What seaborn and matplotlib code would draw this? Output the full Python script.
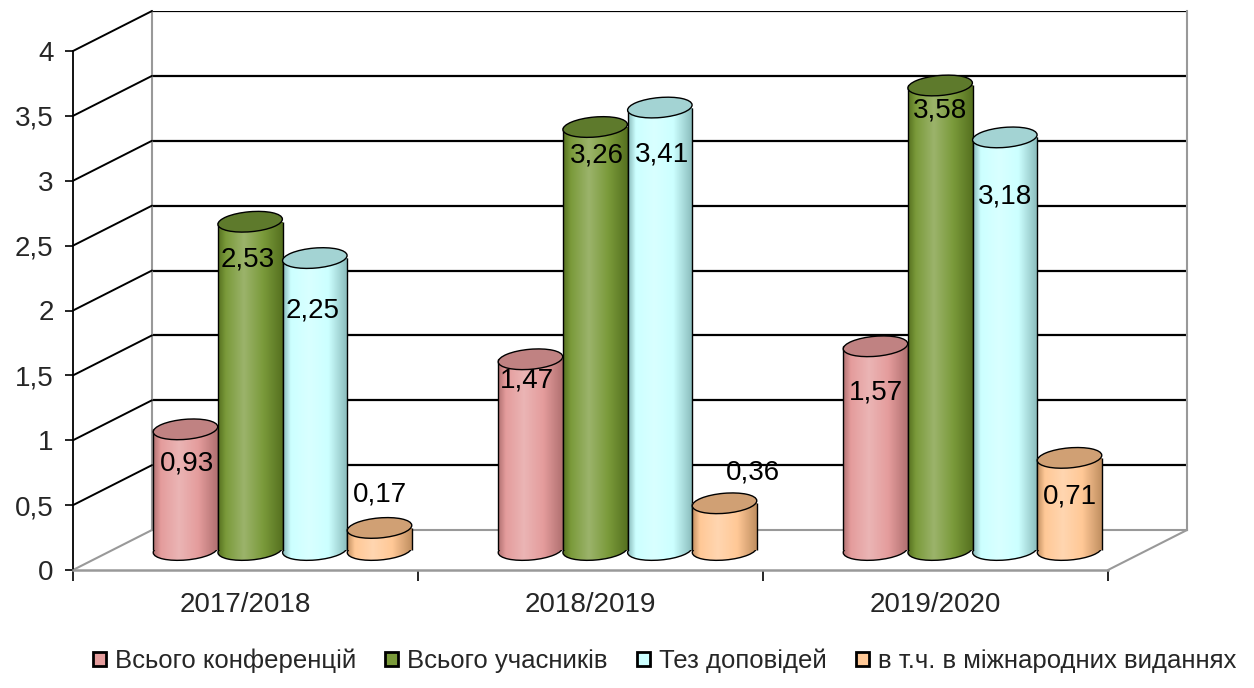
import numpy as np
import pandas as pd
import seaborn as sns
import matplotlib
matplotlib.use("Agg")
import matplotlib.pyplot as plt
from matplotlib.patches import Ellipse, Patch, ConnectionPatch
from matplotlib.colors import LinearSegmentedColormap, to_rgb
from matplotlib.transforms import ScaledTranslation
from matplotlib.ticker import FixedLocator, NullFormatter

# ---------------- data ----------------
years = ["2017/2018", "2018/2019", "2019/2020"]
series = ["Всього конференцій", "Всього учасників", "Тез доповідей",
          "в т.ч. в міжнародних виданнях"]
conferences = [0.93, 1.47, 1.57]
participants = [2.53, 3.26, 3.58]
theses = [2.25, 3.41, 3.18]
international = [0.17, 0.36, 0.71]
y_ticks = [0, 0.5, 1, 1.5, 2, 2.5, 3, 3.5, 4]
y_tick_labels = ["0", "0,5", "1", "1,5", "2", "2,5", "3", "3,5", "4"]

# ---------------- style ----------------
body_colors = ["#E49C9C", "#7A9A3A", "#CCFFFF", "#FFC896"]
shade_colors = ["#B07070", "#55701F", "#88BABA", "#C08E60"]
top_colors = ["#C08282", "#5E7A2C", "#A3D3D3", "#D0A074"]
# label offsets (pixels) relative to bar top, per series then per year
label_dy_px = [[-34, -21, -46], [-38, -28, -25], [-52, -47, -59], [33, 31, -39]]
label_dx_px = [[2, -4, 0], [-2, 2, 0], [-2, 2, 0], [0, 28, 0]]

W, H = 1254, 688
sns.set_style("white")
plt.rcParams["font.family"] = ["Liberation Sans", "DejaVu Sans"]

df = pd.DataFrame({
    "year": years * 4,
    "series": np.repeat(series, 3),
    "value": conferences + participants + theses + international,
})

fig = plt.figure(figsize=(W / 100, H / 100), dpi=100)
fig.patch.set_facecolor("white")


def rect(x0, y_top, x1, y_bot, dx=0, dy=0):
    return [(x0 + dx) / W, 1 - (y_bot + dy) / H, (x1 - x0) / W, (y_bot - y_top) / H]


FX0, FY0, FX1, FY1 = 73, 51, 1108, 570
PX_PER_UNIT = (FY1 - FY0) / 4.0
EXT = 24  # extra pixels below the floor for the mid plane (room for bottom caps)

ax_back = fig.add_axes(rect(FX0, FY0, FX1, FY1, 79, -40), zorder=0)
ax_front = fig.add_axes(rect(FX0, FY0, FX1, FY1), zorder=1)
ax_mid = fig.add_axes(rect(FX0, FY0 - 20, FX1, FY1 - 20 + EXT, 37, 0), zorder=2)
mid_ymin = -EXT / PX_PER_UNIT

for a in (ax_back, ax_front):
    a.set_xlim(-0.5, 2.5)
    a.set_ylim(0, 4)
    a.patch.set_visible(False)
ax_mid.patch.set_visible(False)

# ---- back wall ----
for y in y_ticks[1:]:
    ax_back.axhline(y, color="black", lw=1.6, zorder=1)
for s in ["left", "right", "bottom"]:
    ax_back.spines[s].set_color("#999999")
    ax_back.spines[s].set_linewidth(1.5)
ax_back.spines["top"].set_visible(False)
ax_back.set_xticks([])
ax_back.set_yticks([])

# ---- side wall diagonals ----
for y in y_ticks:
    con = ConnectionPatch(xyA=(-0.5, y), coordsA=ax_front.transData,
                          xyB=(-0.5, y), coordsB=ax_back.transData,
                          color="#999999" if y == 0 else "black",
                          lw=1.5 if y == 0 else 1.4, zorder=0.5)
    fig.add_artist(con)
con = ConnectionPatch(xyA=(2.5, 0), coordsA=ax_front.transData,
                      xyB=(2.5, 0), coordsB=ax_back.transData,
                      color="#999999", lw=1.5, zorder=0.5)
fig.add_artist(con)

# ---- front axes ----
ax_front.spines["top"].set_visible(False)
ax_front.spines["right"].set_visible(False)
ax_front.spines["left"].set_color("black")
ax_front.spines["left"].set_linewidth(1.3)
ax_front.spines["bottom"].set_color("#999999")
ax_front.spines["bottom"].set_linewidth(1.8)
ax_front.set_yticks(y_ticks)
ax_front.set_yticklabels(y_tick_labels)
ax_front.tick_params(axis="y", length=6, width=1.2, color="black",
                     labelsize=20, pad=8, left=True)
ax_front.xaxis.set_major_locator(FixedLocator([-0.5, 0.5, 1.5, 2.5]))
ax_front.xaxis.set_major_formatter(NullFormatter())
ax_front.xaxis.set_minor_locator(FixedLocator([0, 1, 2]))
ax_front.set_xticklabels(years, minor=True)
ax_front.tick_params(axis="x", which="major", length=8, width=1.2,
                     color="black", bottom=True)
ax_front.tick_params(axis="x", which="minor", length=0, labelsize=20, pad=16)

# ---- bars (mid-depth plane) ----
sns.barplot(data=df, x="year", y="value", hue="series", order=years,
            hue_order=series, palette=body_colors, width=0.75,
            saturation=1, edgecolor="none", legend=False, ax=ax_mid)
ax_mid.set_xlim(-0.5, 2.5)
ax_mid.set_ylim(mid_ymin, 4)
ax_mid.axis("off")

pos = ax_mid.get_position()
in_per_x = pos.width * fig.get_figwidth() / 3.0
in_per_y = PX_PER_UNIT / 100.0
ell_h_in = 0.20
eh = 0.75 * ell_h_in / in_per_y
angle = 5
grad = np.linspace(0, 1, 256).reshape(1, -1)

for i, cont in enumerate(ax_mid.containers):
    base = 2 + i
    body = np.array(to_rgb(body_colors[i]))
    light = body + (1 - body) * 0.25
    cmap = LinearSegmentedColormap.from_list(
        f"c{i}", [(0, shade_colors[i]), (0.12, body_colors[i]), (0.4, light),
                  (0.7, body_colors[i]), (1, shade_colors[i])])
    for j, bar in enumerate(cont):
        x, w, h = bar.get_x(), bar.get_width(), bar.get_height()
        cx = x + w / 2
        w_in = w * in_per_x
        bar.set_zorder(base + 0.2)
        # bottom cap (shaded lower half)
        bot_tr = fig.dpi_scale_trans + ScaledTranslation(cx, 0, ax_mid.transData)
        bot_clip = Ellipse((0, 0), w_in, ell_h_in, angle=angle, transform=bot_tr)
        im2 = ax_mid.imshow(grad, extent=[x, x + w, -eh, eh], aspect="auto",
                            cmap=cmap, zorder=base + 0.05, interpolation="bilinear")
        im2.set_clip_path(bot_clip)
        bot = Ellipse((0, 0), w_in, ell_h_in, angle=angle, transform=bot_tr,
                      facecolor="none", edgecolor="black", lw=1.0,
                      zorder=base + 0.1, clip_on=False)
        ax_mid.add_patch(bot)
        # body
        im = ax_mid.imshow(grad, extent=[x, x + w, 0, h], aspect="auto",
                           cmap=cmap, zorder=base + 0.25, interpolation="bilinear")
        im.set_clip_path(bar)
        ax_mid.vlines([x, x + w], 0, h, colors="black", lw=1.0, zorder=base + 0.3)
        # top cap
        top = Ellipse((0, 0), w_in, ell_h_in, angle=angle,
                      transform=fig.dpi_scale_trans + ScaledTranslation(cx, h, ax_mid.transData),
                      facecolor=top_colors[i], edgecolor="black", lw=1.0,
                      zorder=base + 0.4, clip_on=False)
        ax_mid.add_patch(top)
        ax_mid.annotate(f"{h:.2f}".replace(".", ","), xy=(cx, h),
                        xytext=(label_dx_px[i][j] * 0.72, label_dy_px[i][j] * 0.72),
                        textcoords="offset points", ha="center", va="center",
                        fontsize=20, color="black", zorder=20)

ax_mid.set_xlim(-0.5, 2.5)
ax_mid.set_ylim(mid_ymin, 4)

# ---- legend ----
handles = [Patch(facecolor=c, edgecolor="black", lw=2.0) for c in body_colors]
fig.legend(handles, series, loc="lower center", bbox_to_anchor=(0.530, -0.012),
           ncol=4, frameon=False, handlelength=0.5, handleheight=0.5,
           handletextpad=0.35, columnspacing=1.15,
           prop={"family": ["Liberation Sans"], "size": 18.5})

fig.savefig("out.png", dpi=100, facecolor="white")
